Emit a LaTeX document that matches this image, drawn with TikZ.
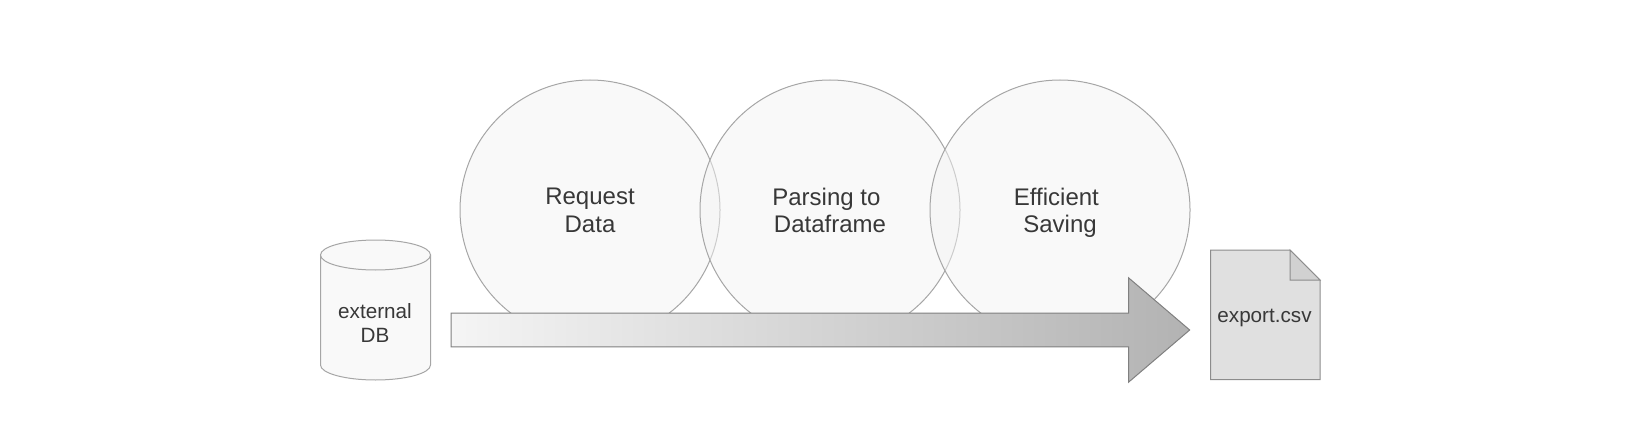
\documentclass[tikz,border=0pt]{standalone}
\usepackage{fontspec}
\setmainfont{Liberation Sans}
\usepackage{xcolor}
\usetikzlibrary{shapes.arrows}
\definecolor{inktext}{HTML}{383838}
\definecolor{stepfill}{HTML}{F3F3F3}
\definecolor{stepline}{HTML}{A6A6A6}
\definecolor{docfill}{HTML}{E0E0E0}
\definecolor{docline}{HTML}{8C8C8C}

\begin{document}
\begin{tikzpicture}[x=0.75pt, y=-0.75pt,
    stepcircle/.style={draw=stepline, circle, fill=stepfill, fill opacity=0.5, text opacity=1, minimum size=195pt, inner sep=0pt, outer sep=0pt, line width=0.75pt},
    steptext/.style={text=inktext, font=\fontsize{18}{20.5}\selectfont, align=center},
    smalltext/.style={text=inktext, font=\fontsize{15.5}{18}\selectfont, align=center}]
    \useasboundingbox (0,0) rectangle (1651,431);

    % Steps
    \node[stepcircle] (req) at (590,210) {};
    \node[stepcircle] (parse) at (830,210) {};
    \node[stepcircle] (save) at (1060,210) {};
    \node[steptext] (reqtext) at (590,210.5) {Request\\Data};
    \node[steptext] (parsetext) at (830,210.5) {Parsing to\hspace{0.3em}\mbox{}\\Dataframe};
    \node[steptext] (savetext) at (1060,213) {Efficient\hspace{0.3em}\mbox{}\\Saving};

    % Source
    \draw[draw=stepline, fill=black!2.5, line width=0.75pt] (320.5,255) -- (320.5,365) arc[start angle=180, end angle=0, x radius=55, y radius=15] -- (430.5,255) -- cycle;
    \draw[draw=stepline, fill=black!2.5, line width=0.75pt] (375.5,255) ellipse[x radius=55, y radius=15];
    \node[smalltext] (dbtext) at (375,323) {external\\DB};

    % Flow arrow
    \node[draw=black!50, single arrow, single arrow head extend=26.6pt, single arrow tip angle=81, minimum height=554pt, minimum width=77.5pt, inner xsep=0pt, inner ysep=12.2pt, outer sep=0pt, left color=black!4, right color=black!30, line width=0.75pt, anchor=tail] (flow) at (451,330) {};

    % Result file
    \draw[draw=docline, fill=docfill, line width=0.75pt] (1210.5,250) -- (1290,250) -- (1320,280) -- (1320,379.5) -- (1210.5,379.5) -- cycle;
    \draw[draw=docline, fill=black!18, line width=0.75pt] (1290,250) -- (1290,280) -- (1320,280) -- cycle;
    \node[smalltext] (csvtext) at (1264.5,318) {export.csv};
\end{tikzpicture}
\end{document}
